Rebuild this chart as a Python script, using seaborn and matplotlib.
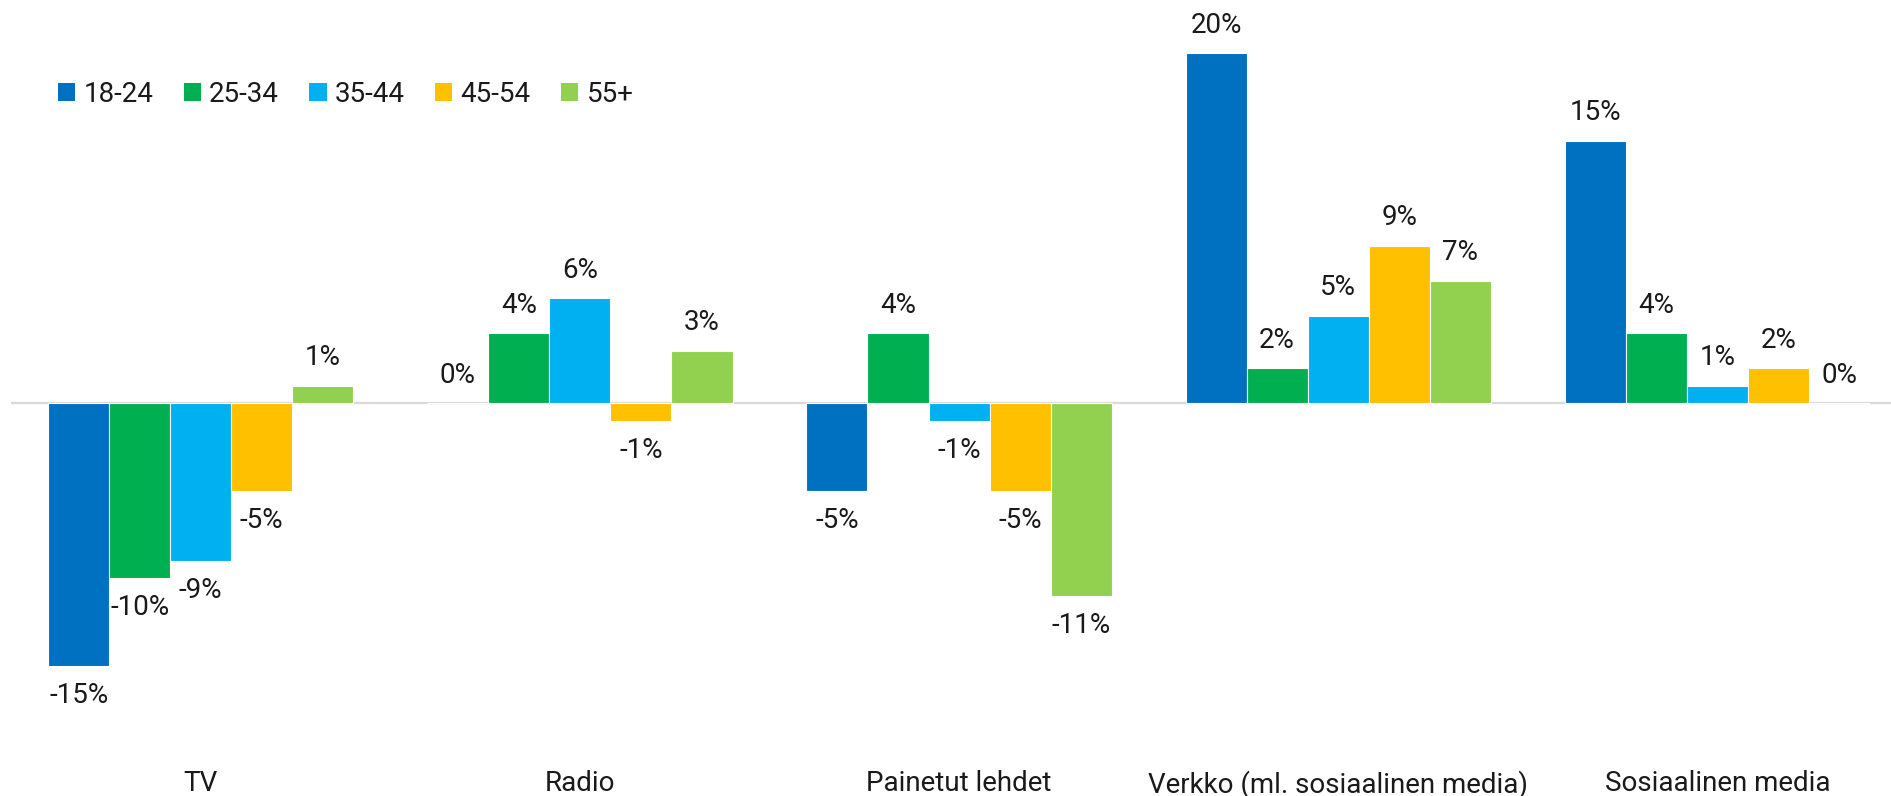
import pandas as pd
import seaborn as sns
import matplotlib.pyplot as plt
from matplotlib.patches import Patch

# chart data
categories = ['TV', 'Radio', 'Painetut lehdet', 'Verkko (ml. sosiaalinen media)', 'Sosiaalinen media']
age_groups = ['18-24', '25-34', '35-44', '45-54', '55+']
v_18_24 = [-15, 0, -5, 20, 15]
v_25_34 = [-10, 4, 4, 2, 4]
v_35_44 = [-9, 6, -1, 5, 1]
v_45_54 = [-5, -1, -5, 9, 2]
v_55 = [1, 3, -11, 7, 0]
colors = ['#0070C0', '#00B050', '#00B0F0', '#FFC000', '#92D050']

series = [v_18_24, v_25_34, v_35_44, v_45_54, v_55]
rows = []
for grp, vals in zip(age_groups, series):
    for cat, v in zip(categories, vals):
        rows.append({'category': cat, 'group': grp, 'value': v})
df = pd.DataFrame(rows)

sns.set_style('white')
plt.rcParams['font.family'] = ['Roboto', 'DejaVu Sans']

fig = plt.figure(figsize=(18.91, 7.96), dpi=100, facecolor='white')
ax = fig.add_axes([0.00592, 0.043, 1.0025, 0.9563])

sns.barplot(data=df, x='category', y='value', hue='group',
            order=categories, hue_order=age_groups,
            palette=colors, width=0.805, saturation=1,
            edgecolor='white', linewidth=0.8, legend=False, ax=ax)

ax.set_xlim(-0.5, 4.5)
ax.set_ylim(-20.5, 23)
ax.axhline(0, color='#D9D9D9', lw=1.6, zorder=0)

# value labels
for container in ax.containers:
    for bar in container:
        h = bar.get_height()
        x = bar.get_x() + bar.get_width() / 2
        off = 20 if h >= 0 else -21.5
        ax.annotate(f'{h:.0f}%', (x, h), xytext=(0, off),
                    textcoords='offset points', ha='center', va='center',
                    fontsize=20, color='#1a1a1a')

for s in ax.spines.values():
    s.set_visible(False)
ax.set_yticks([])
ax.set_xlabel('')
ax.set_ylabel('')
ax.tick_params(axis='x', length=0, pad=6, labelsize=20, labelcolor='#1a1a1a')

handles = [Patch(facecolor=c, edgecolor='none') for c in colors]
fig.legend(handles, age_groups, loc='center left',
           bbox_to_anchor=(58 / 1891, 1 - 94 / 796), ncol=5, frameon=False,
           fontsize=20, labelcolor='#1a1a1a',
           handlelength=0.62, handleheight=0.62,
           handletextpad=0.29, columnspacing=1.1, borderpad=0, borderaxespad=0)

plt.savefig('out.png', dpi=100, facecolor='white')
